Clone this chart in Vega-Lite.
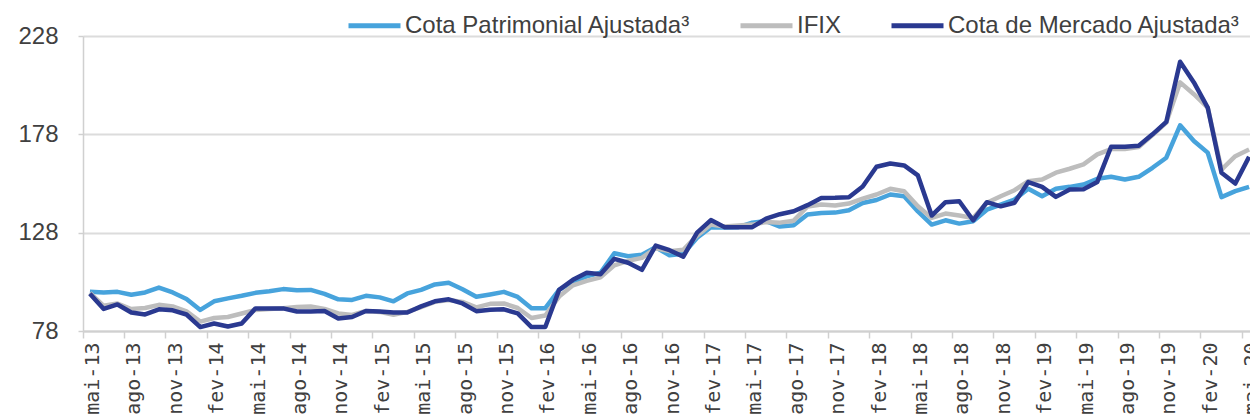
{
  "$schema": "https://vega.github.io/schema/vega-lite/v6.json",
  "autosize": "none",
  "width": 1173,
  "height": 295,
  "padding": {"left": 83, "top": 36, "right": 0, "bottom": 86},
  "background": "white",
  "config": {"view": {"stroke": null}},
  "data": {"values": [
    {"mes":"mai-13","Cota Patrimonial Ajustada³":98.0,"IFIX":97.4,"Cota de Mercado Ajustada³":96.9},
    {"mes":"jun-13","Cota Patrimonial Ajustada³":97.6,"IFIX":90.8,"Cota de Mercado Ajustada³":89.2},
    {"mes":"jul-13","Cota Patrimonial Ajustada³":97.9,"IFIX":92.0,"Cota de Mercado Ajustada³":91.5},
    {"mes":"ago-13","Cota Patrimonial Ajustada³":96.4,"IFIX":89.2,"Cota de Mercado Ajustada³":87.4},
    {"mes":"set-13","Cota Patrimonial Ajustada³":97.6,"IFIX":89.7,"Cota de Mercado Ajustada³":86.4},
    {"mes":"out-13","Cota Patrimonial Ajustada³":100.1,"IFIX":91.3,"Cota de Mercado Ajustada³":89.0},
    {"mes":"nov-13","Cota Patrimonial Ajustada³":97.6,"IFIX":90.5,"Cota de Mercado Ajustada³":88.5},
    {"mes":"dez-13","Cota Patrimonial Ajustada³":94.3,"IFIX":88.0,"Cota de Mercado Ajustada³":86.4},
    {"mes":"jan-14","Cota Patrimonial Ajustada³":88.7,"IFIX":82.8,"Cota de Mercado Ajustada³":80.0},
    {"mes":"fev-14","Cota Patrimonial Ajustada³":93.1,"IFIX":84.6,"Cota de Mercado Ajustada³":81.8},
    {"mes":"mar-14","Cota Patrimonial Ajustada³":94.6,"IFIX":85.1,"Cota de Mercado Ajustada³":80.3},
    {"mes":"abr-14","Cota Patrimonial Ajustada³":95.9,"IFIX":86.9,"Cota de Mercado Ajustada³":81.8},
    {"mes":"mai-14","Cota Patrimonial Ajustada³":97.4,"IFIX":88.7,"Cota de Mercado Ajustada³":89.5},
    {"mes":"jun-14","Cota Patrimonial Ajustada³":98.2,"IFIX":89.2,"Cota de Mercado Ajustada³":89.5},
    {"mes":"jul-14","Cota Patrimonial Ajustada³":99.3,"IFIX":89.6,"Cota de Mercado Ajustada³":89.5},
    {"mes":"ago-14","Cota Patrimonial Ajustada³":98.7,"IFIX":90.2,"Cota de Mercado Ajustada³":87.9},
    {"mes":"set-14","Cota Patrimonial Ajustada³":98.9,"IFIX":90.5,"Cota de Mercado Ajustada³":87.9},
    {"mes":"out-14","Cota Patrimonial Ajustada³":96.9,"IFIX":89.2,"Cota de Mercado Ajustada³":88.2},
    {"mes":"nov-14","Cota Patrimonial Ajustada³":94.1,"IFIX":86.9,"Cota de Mercado Ajustada³":84.4},
    {"mes":"dez-14","Cota Patrimonial Ajustada³":93.8,"IFIX":86.2,"Cota de Mercado Ajustada³":85.1},
    {"mes":"jan-15","Cota Patrimonial Ajustada³":95.9,"IFIX":88.2,"Cota de Mercado Ajustada³":88.2},
    {"mes":"fev-15","Cota Patrimonial Ajustada³":95.1,"IFIX":87.7,"Cota de Mercado Ajustada³":87.9},
    {"mes":"mar-15","Cota Patrimonial Ajustada³":93.1,"IFIX":86.2,"Cota de Mercado Ajustada³":87.4},
    {"mes":"abr-15","Cota Patrimonial Ajustada³":97.1,"IFIX":87.7,"Cota de Mercado Ajustada³":87.4},
    {"mes":"mai-15","Cota Patrimonial Ajustada³":98.9,"IFIX":90.2,"Cota de Mercado Ajustada³":90.5},
    {"mes":"jun-15","Cota Patrimonial Ajustada³":101.7,"IFIX":92.8,"Cota de Mercado Ajustada³":93.1},
    {"mes":"jul-15","Cota Patrimonial Ajustada³":102.5,"IFIX":93.8,"Cota de Mercado Ajustada³":94.1},
    {"mes":"ago-15","Cota Patrimonial Ajustada³":99.2,"IFIX":92.8,"Cota de Mercado Ajustada³":92.0},
    {"mes":"set-15","Cota Patrimonial Ajustada³":95.4,"IFIX":90.0,"Cota de Mercado Ajustada³":88.1},
    {"mes":"out-15","Cota Patrimonial Ajustada³":96.6,"IFIX":91.8,"Cota de Mercado Ajustada³":88.8},
    {"mes":"nov-15","Cota Patrimonial Ajustada³":97.9,"IFIX":92.0,"Cota de Mercado Ajustada³":89.0},
    {"mes":"dez-15","Cota Patrimonial Ajustada³":95.3,"IFIX":89.7,"Cota de Mercado Ajustada³":87.0},
    {"mes":"jan-16","Cota Patrimonial Ajustada³":89.6,"IFIX":84.6,"Cota de Mercado Ajustada³":80.0},
    {"mes":"fev-16","Cota Patrimonial Ajustada³":89.6,"IFIX":85.9,"Cota de Mercado Ajustada³":80.0},
    {"mes":"mar-16","Cota Patrimonial Ajustada³":98.9,"IFIX":95.5,"Cota de Mercado Ajustada³":98.9},
    {"mes":"abr-16","Cota Patrimonial Ajustada³":103.0,"IFIX":101.2,"Cota de Mercado Ajustada³":104.0},
    {"mes":"mai-16","Cota Patrimonial Ajustada³":105.8,"IFIX":103.5,"Cota de Mercado Ajustada³":107.6},
    {"mes":"jun-16","Cota Patrimonial Ajustada³":107.6,"IFIX":105.3,"Cota de Mercado Ajustada³":106.8},
    {"mes":"jul-16","Cota Patrimonial Ajustada³":117.5,"IFIX":111.4,"Cota de Mercado Ajustada³":114.7},
    {"mes":"ago-16","Cota Patrimonial Ajustada³":116.0,"IFIX":113.7,"Cota de Mercado Ajustada³":112.7},
    {"mes":"set-16","Cota Patrimonial Ajustada³":116.8,"IFIX":115.2,"Cota de Mercado Ajustada³":109.1},
    {"mes":"out-16","Cota Patrimonial Ajustada³":120.6,"IFIX":120.1,"Cota de Mercado Ajustada³":121.4},
    {"mes":"nov-16","Cota Patrimonial Ajustada³":116.5,"IFIX":118.6,"Cota de Mercado Ajustada³":119.1},
    {"mes":"dez-16","Cota Patrimonial Ajustada³":117.3,"IFIX":119.3,"Cota de Mercado Ajustada³":115.8},
    {"mes":"jan-17","Cota Patrimonial Ajustada³":125.4,"IFIX":126.5,"Cota de Mercado Ajustada³":128.0},
    {"mes":"fev-17","Cota Patrimonial Ajustada³":130.8,"IFIX":132.1,"Cota de Mercado Ajustada³":134.4},
    {"mes":"mar-17","Cota Patrimonial Ajustada³":130.6,"IFIX":131.1,"Cota de Mercado Ajustada³":130.8},
    {"mes":"abr-17","Cota Patrimonial Ajustada³":130.8,"IFIX":131.6,"Cota de Mercado Ajustada³":130.8},
    {"mes":"mai-17","Cota Patrimonial Ajustada³":133.1,"IFIX":132.1,"Cota de Mercado Ajustada³":130.8},
    {"mes":"jun-17","Cota Patrimonial Ajustada³":133.9,"IFIX":133.4,"Cota de Mercado Ajustada³":135.1},
    {"mes":"jul-17","Cota Patrimonial Ajustada³":131.1,"IFIX":133.1,"Cota de Mercado Ajustada³":137.4},
    {"mes":"ago-17","Cota Patrimonial Ajustada³":131.8,"IFIX":134.1,"Cota de Mercado Ajustada³":138.9},
    {"mes":"set-17","Cota Patrimonial Ajustada³":137.2,"IFIX":141.3,"Cota de Mercado Ajustada³":142.0},
    {"mes":"out-17","Cota Patrimonial Ajustada³":138.0,"IFIX":142.3,"Cota de Mercado Ajustada³":145.6},
    {"mes":"nov-17","Cota Patrimonial Ajustada³":138.2,"IFIX":141.8,"Cota de Mercado Ajustada³":145.7},
    {"mes":"dez-17","Cota Patrimonial Ajustada³":139.4,"IFIX":142.8,"Cota de Mercado Ajustada³":146.0},
    {"mes":"jan-18","Cota Patrimonial Ajustada³":143.1,"IFIX":145.3,"Cota de Mercado Ajustada³":151.5},
    {"mes":"fev-18","Cota Patrimonial Ajustada³":144.6,"IFIX":147.4,"Cota de Mercado Ajustada³":161.5},
    {"mes":"mar-18","Cota Patrimonial Ajustada³":147.4,"IFIX":150.3,"Cota de Mercado Ajustada³":163.2},
    {"mes":"abr-18","Cota Patrimonial Ajustada³":146.5,"IFIX":149.1,"Cota de Mercado Ajustada³":162.2},
    {"mes":"mai-18","Cota Patrimonial Ajustada³":138.8,"IFIX":141.4,"Cota de Mercado Ajustada³":157.1},
    {"mes":"jun-18","Cota Patrimonial Ajustada³":132.1,"IFIX":135.5,"Cota de Mercado Ajustada³":136.7},
    {"mes":"jul-18","Cota Patrimonial Ajustada³":134.3,"IFIX":137.7,"Cota de Mercado Ajustada³":143.5},
    {"mes":"ago-18","Cota Patrimonial Ajustada³":132.6,"IFIX":136.7,"Cota de Mercado Ajustada³":144.0},
    {"mes":"set-18","Cota Patrimonial Ajustada³":133.8,"IFIX":135.5,"Cota de Mercado Ajustada³":134.3},
    {"mes":"out-18","Cota Patrimonial Ajustada³":139.7,"IFIX":143.2,"Cota de Mercado Ajustada³":143.5},
    {"mes":"nov-18","Cota Patrimonial Ajustada³":142.3,"IFIX":146.5,"Cota de Mercado Ajustada³":141.4},
    {"mes":"dez-18","Cota Patrimonial Ajustada³":144.8,"IFIX":149.6,"Cota de Mercado Ajustada³":143.2},
    {"mes":"jan-19","Cota Patrimonial Ajustada³":150.3,"IFIX":154.2,"Cota de Mercado Ajustada³":153.7},
    {"mes":"fev-19","Cota Patrimonial Ajustada³":146.5,"IFIX":155.0,"Cota de Mercado Ajustada³":151.3},
    {"mes":"mar-19","Cota Patrimonial Ajustada³":150.3,"IFIX":158.5,"Cota de Mercado Ajustada³":146.2},
    {"mes":"abr-19","Cota Patrimonial Ajustada³":151.3,"IFIX":160.5,"Cota de Mercado Ajustada³":149.9},
    {"mes":"mai-19","Cota Patrimonial Ajustada³":152.5,"IFIX":162.7,"Cota de Mercado Ajustada³":150.1},
    {"mes":"jun-19","Cota Patrimonial Ajustada³":155.4,"IFIX":167.8,"Cota de Mercado Ajustada³":153.8},
    {"mes":"jul-19","Cota Patrimonial Ajustada³":156.4,"IFIX":170.5,"Cota de Mercado Ajustada³":171.7},
    {"mes":"ago-19","Cota Patrimonial Ajustada³":155.0,"IFIX":170.5,"Cota de Mercado Ajustada³":171.7},
    {"mes":"set-19","Cota Patrimonial Ajustada³":156.4,"IFIX":171.6,"Cota de Mercado Ajustada³":172.2},
    {"mes":"out-19","Cota Patrimonial Ajustada³":161.0,"IFIX":177.6,"Cota de Mercado Ajustada³":178.0},
    {"mes":"nov-19","Cota Patrimonial Ajustada³":166.1,"IFIX":184.0,"Cota de Mercado Ajustada³":184.3},
    {"mes":"dez-19","Cota Patrimonial Ajustada³":182.6,"IFIX":204.4,"Cota de Mercado Ajustada³":214.9},
    {"mes":"jan-20","Cota Patrimonial Ajustada³":174.6,"IFIX":198.4,"Cota de Mercado Ajustada³":204.4},
    {"mes":"fev-20","Cota Patrimonial Ajustada³":168.7,"IFIX":191.6,"Cota de Mercado Ajustada³":191.6},
    {"mes":"mar-20","Cota Patrimonial Ajustada³":146.1,"IFIX":160.1,"Cota de Mercado Ajustada³":158.5},
    {"mes":"abr-20","Cota Patrimonial Ajustada³":149.1,"IFIX":166.9,"Cota de Mercado Ajustada³":153.0},
    {"mes":"mai-20","Cota Patrimonial Ajustada³":151.3,"IFIX":170.3,"Cota de Mercado Ajustada³":166.6}
  ]},
  "transform": [
    {"fold": ["Cota Patrimonial Ajustada³", "IFIX", "Cota de Mercado Ajustada³"], "as": ["serie", "valor"]}
  ],
  "mark": {"type": "line", "strokeWidth": 4.5, "strokeJoin": "round", "strokeCap": "butt"},
  "encoding": {
    "x": {
      "field": "mes", "type": "nominal", "sort": null, "bandPosition": 0.5,
      "scale": {"type": "band", "paddingInner": 0, "paddingOuter": 0},
      "axis": {
        "title": null,
        "values": ["mai-13","ago-13","nov-13","fev-14","mai-14","ago-14","nov-14","fev-15","mai-15","ago-15","nov-15","fev-16","mai-16","ago-16","nov-16","fev-17","mai-17","ago-17","nov-17","fev-18","mai-18","ago-18","nov-18","fev-19","mai-19","ago-19","nov-19","fev-20","mai-20"],
        "bandPosition": 0,
        "labelAngle": 270,
        "labelAlign": "right",
        "labelBaseline": "middle",
        "labelOffset": 3,
        "labelPadding": 4,
        "labelFont": "DejaVu Sans Mono",
        "labelFontSize": 20,
        "labelColor": "#404040",
        "labelOverlap": false,
        "labelBound": false,
        "tickSize": 7,
        "tickColor": "#D0D0D0",
        "tickWidth": 1.5,
        "domainColor": "#D0D0D0",
        "domainWidth": 2,
        "grid": false
      }
    },
    "y": {
      "field": "valor", "type": "quantitative",
      "scale": {"domain": [78, 228], "nice": false, "zero": false},
      "axis": {
        "title": null,
        "values": [78, 128, 178, 228],
        "labelFont": "Liberation Sans",
        "labelFontSize": 24,
        "labelColor": "#404040",
        "labelPadding": 20,
        "tickSize": 5,
        "tickColor": "#D0D0D0",
        "tickWidth": 1.5,
        "domainColor": "#D0D0D0",
        "domainWidth": 1.5,
        "grid": true,
        "gridColor": "#DCDCDC",
        "gridWidth": 2
      }
    },
    "color": {
      "field": "serie", "type": "nominal",
      "scale": {
        "domain": ["Cota Patrimonial Ajustada³", "IFIX", "Cota de Mercado Ajustada³"],
        "range": ["#47A3DC", "#BDBDBD", "#2A3990"]
      },
      "legend": {
        "title": null,
        "orient": "none",
        "direction": "horizontal",
        "legendX": 263,
        "legendY": -39,
        "symbolType": "stroke",
        "symbolSize": 2704,
        "symbolStrokeWidth": 5,
        "labelFont": "Liberation Sans",
        "labelFontSize": 24,
        "labelColor": "#404040",
        "labelOffset": 2,
        "columnPadding": 39,
        "labelLimit": 0
      }
    }
  }
}
